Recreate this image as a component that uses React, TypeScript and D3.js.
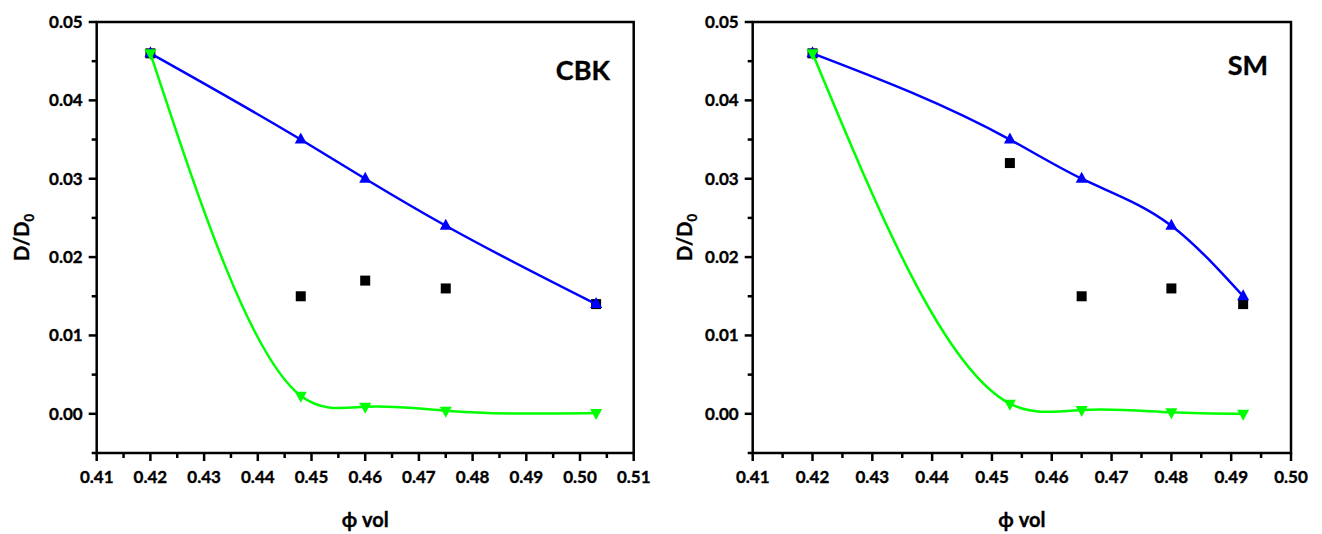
import React from "react";
import * as d3 from "d3";

// CBK panel
const phiCBK = [0.42, 0.448, 0.46, 0.475, 0.503];
const blueCBK = [0.046, 0.035, 0.03, 0.024, 0.014];
const greenCBK = [0.046, 0.0023, 0.0009, 0.0004, 0.0001];
const blackCBK = [0.046, 0.015, 0.017, 0.016, 0.014];

// SM panel
const phiSM = [0.42, 0.453, 0.465, 0.48, 0.492];
const blueSM = [0.046, 0.035, 0.03, 0.024, 0.015];
const greenSM = [0.046, 0.0013, 0.0005, 0.0002, 0.0];
const blackSM = [0.046, 0.032, 0.015, 0.016, 0.014];

const xTicksCBK = [0.41, 0.42, 0.43, 0.44, 0.45, 0.46, 0.47, 0.48, 0.49, 0.5, 0.51];
const xTicksSM = [0.41, 0.42, 0.43, 0.44, 0.45, 0.46, 0.47, 0.48, 0.49, 0.5];
const yTicks = [0.0, 0.01, 0.02, 0.03, 0.04, 0.05];

const FONT = "Lato, 'Open Sans', sans-serif";
const BLUE = "#0000ff";
const GREEN = "#00ff00";

// Natural cubic spline y(x), emitted as exact cubic Bezier segments
function splinePath(
  xs: number[],
  ys: number[],
  sx: d3.ScaleLinear<number, number>,
  sy: d3.ScaleLinear<number, number>
): string {
  const n = xs.length;
  const h = d3.range(n - 1).map((i) => xs[i + 1] - xs[i]);
  const M = new Array(n).fill(0);
  if (n > 2) {
    const m = n - 2;
    const a: number[] = [], b: number[] = [], c: number[] = [], r: number[] = [];
    for (let k = 0; k < m; k++) {
      const i = k + 1;
      a.push(h[i - 1]);
      b.push(2 * (h[i - 1] + h[i]));
      c.push(h[i]);
      r.push(6 * ((ys[i + 1] - ys[i]) / h[i] - (ys[i] - ys[i - 1]) / h[i - 1]));
    }
    for (let k = 1; k < m; k++) {
      const w = a[k] / b[k - 1];
      b[k] -= w * c[k - 1];
      r[k] -= w * r[k - 1];
    }
    const sol = new Array(m).fill(0);
    sol[m - 1] = r[m - 1] / b[m - 1];
    for (let k = m - 2; k >= 0; k--) sol[k] = (r[k] - c[k] * sol[k + 1]) / b[k];
    for (let k = 0; k < m; k++) M[k + 1] = sol[k];
  }
  const p = d3.path();
  p.moveTo(sx(xs[0]), sy(ys[0]));
  for (let i = 0; i < n - 1; i++) {
    const hi = h[i];
    const s = (ys[i + 1] - ys[i]) / hi;
    const d0 = s - (hi * (2 * M[i] + M[i + 1])) / 6;
    const d1 = s + (hi * (M[i] + 2 * M[i + 1])) / 6;
    p.bezierCurveTo(
      sx(xs[i] + hi / 3), sy(ys[i] + (d0 * hi) / 3),
      sx(xs[i + 1] - hi / 3), sy(ys[i + 1] - (d1 * hi) / 3),
      sx(xs[i + 1]), sy(ys[i + 1])
    );
  }
  return p.toString();
}

const triUp = (x: number, y: number) =>
  `M${x - 6},${y + 4}L${x + 6},${y + 4}L${x},${y - 7}Z`;
const triDown = (x: number, y: number) =>
  `M${x - 6},${y - 4}L${x + 6},${y - 4}L${x},${y + 7}Z`;

type PanelProps = {
  left: number;
  right: number;
  top: number;
  bottom: number;
  xDomain: [number, number];
  xTicks: number[];
  phi: number[];
  blue: number[];
  green: number[];
  black: number[];
  label: string;
  labelX: number;
  labelY: number;
  yTitleX: number;
};

const textStyle = {
  fontFamily: FONT,
  fontWeight: "bold" as const,
  fill: "#000",
  stroke: "#000",
  strokeWidth: 0.35,
};

function Panel(p: PanelProps) {
  const sx = d3.scaleLinear().domain(p.xDomain).range([p.left, p.right]);
  const sy = d3.scaleLinear().domain([-0.005, 0.05]).range([p.bottom, p.top]);
  const xMinor = d3.range(p.xTicks.length - 1).map((i) => (p.xTicks[i] + p.xTicks[i + 1]) / 2);
  const yMinor = [-0.005, ...yTicks.slice(0, -1).map((v) => v + 0.005)];
  const fmt = d3.format(".2f");
  const midX = (p.left + p.right) / 2;
  const midY = (p.top + p.bottom) / 2;
  return (
    <g>
      {/* data: squares, then blue line, then green line */}
      {p.phi.map((x, i) => (
        <rect key={"s" + i} x={sx(x) - 5} y={sy(p.black[i]) - 5} width={10} height={10} fill="#000" />
      ))}
      <path d={splinePath(p.phi, p.blue, sx, sy)} fill="none" stroke={BLUE} strokeWidth={2.5} />
      {p.phi.map((x, i) => (
        <path key={"b" + i} d={triUp(sx(x), sy(p.blue[i]))} fill={BLUE} />
      ))}
      <path d={splinePath(p.phi, p.green, sx, sy)} fill="none" stroke={GREEN} strokeWidth={2.5} />
      {p.phi.map((x, i) => (
        <path key={"g" + i} d={triDown(sx(x), sy(p.green[i]))} fill={GREEN} />
      ))}

      {/* frame */}
      <rect x={p.left} y={p.top} width={p.right - p.left} height={p.bottom - p.top}
        fill="none" stroke="#000" strokeWidth={2.5} />

      {/* x ticks */}
      {p.xTicks.map((t) => (
        <g key={"xt" + t}>
          <line x1={sx(t)} x2={sx(t)} y1={p.bottom} y2={p.bottom + 8} stroke="#000" strokeWidth={2.5} />
          <text x={sx(t)} y={p.bottom + 30} textAnchor="middle" fontSize={17} style={textStyle}>{fmt(t)}</text>
        </g>
      ))}
      {xMinor.map((t) => (
        <line key={"xm" + t} x1={sx(t)} x2={sx(t)} y1={p.bottom} y2={p.bottom + 5} stroke="#000" strokeWidth={2.5} />
      ))}

      {/* y ticks */}
      {yTicks.map((t) => (
        <g key={"yt" + t}>
          <line x1={p.left - 8} x2={p.left} y1={sy(t)} y2={sy(t)} stroke="#000" strokeWidth={2.5} />
          <text x={p.left - 14} y={sy(t)} dy="0.35em" textAnchor="end" fontSize={17} style={textStyle}>{fmt(t)}</text>
        </g>
      ))}
      {yMinor.map((t) => (
        <line key={"ym" + t} x1={p.left - 5} x2={p.left} y1={sy(t)} y2={sy(t)} stroke="#000" strokeWidth={2.5} />
      ))}

      {/* titles */}
      <text x={midX} y={p.bottom + 74} textAnchor="middle" fontSize={20} style={textStyle}>ϕ vol</text>
      <text transform={`translate(${p.yTitleX},${midY}) rotate(-90)`} textAnchor="middle"
        fontSize={20} style={textStyle}>
        D/D<tspan fontSize={13} dy={5}>0</tspan>
      </text>
      <text x={p.labelX} y={p.labelY} textAnchor="end" fontSize={27} style={textStyle}>{p.label}</text>
    </g>
  );
}

export default function App() {
  return (
    <svg width={1322} height={534} style={{ position: "absolute", left: 0, top: 0, background: "#fff" }}>
      <rect width={1322} height={534} fill="#fff" />
      <Panel left={96.7} right={633.7} top={22} bottom={453} xDomain={[0.41, 0.51]}
        xTicks={xTicksCBK} phi={phiCBK} blue={blueCBK} green={greenCBK} black={blackCBK}
        label="CBK" labelX={610} labelY={80} yTitleX={29} />
      <Panel left={752.7} right={1291} top={22} bottom={453} xDomain={[0.41, 0.5]}
        xTicks={xTicksSM} phi={phiSM} blue={blueSM} green={greenSM} black={blackSM}
        label="SM" labelX={1268} labelY={75} yTitleX={692} />
    </svg>
  );
}
